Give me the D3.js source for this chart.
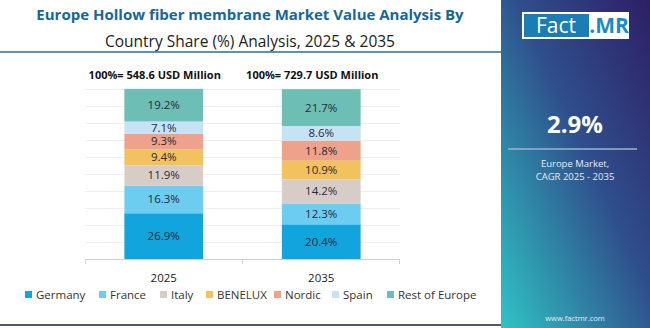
<!DOCTYPE html>
<html>
<head>
<meta charset="utf-8">
<script src="https://cdn.jsdelivr.net/npm/d3@7"></script>
<style>
  body { margin: 0; background: #fff; }
  svg { display: block; font-family: "Open Sans", "Noto Sans", sans-serif; }
</style>
</head>
<body>
<svg id="chart" width="650" height="328"></svg>
<script>
// data
const years = ["2025", "2035"];
const totals = ["548.6", "729.7"];
const countries = ["Germany", "France", "Italy", "BENELUX", "Nordic", "Spain", "Rest of Europe"];
const share2025 = [26.9, 16.3, 11.9, 9.4, 9.3, 7.1, 19.2];
const share2035 = [20.4, 12.3, 14.2, 10.9, 11.8, 8.6, 21.7];
const colors = ["#12a4dc", "#6ccdf1", "#d8cdc6", "#f1c25e", "#eea18b", "#c6e3f6", "#6dbeb5"];
const cagr = "2.9%";

const svg = d3.select("#chart");
const width = 650, height = 328;

// right hand panel
const defs = svg.append("defs");
const grad = defs.append("linearGradient")
  .attr("id", "panel")
  .attr("x1", "100%").attr("y1", "0%")
  .attr("x2", "0%").attr("y2", "100%");
grad.append("stop").attr("offset", "0%").attr("stop-color", "#2e1f66");
grad.append("stop").attr("offset", "45%").attr("stop-color", "#2f4f8c");
grad.append("stop").attr("offset", "100%").attr("stop-color", "#2fc4c4");

svg.append("rect").attr("x", 501).attr("y", 0).attr("width", 149).attr("height", height)
  .attr("fill", "url(#panel)");

svg.append("rect").attr("x", 522).attr("y", 12).attr("width", 107).attr("height", 27).attr("fill", "#fff");
svg.append("rect").attr("x", 524).attr("y", 14).attr("width", 65).attr("height", 23).attr("fill", "#1a7db5");
svg.append("text").attr("x", 556).attr("y", 33).attr("text-anchor", "middle")
  .attr("fill", "#fff").attr("font-size", 21).text("Fact");
svg.append("text").attr("x", 609).attr("y", 33).attr("text-anchor", "middle")
  .attr("fill", "#1a8cc4").attr("font-size", 21).attr("font-weight", 700).text(".MR");

svg.append("text").attr("x", 575).attr("y", 133).attr("text-anchor", "middle")
  .attr("fill", "#fff").attr("font-size", 24).attr("font-weight", 700).text(cagr);
svg.append("line").attr("x1", 508).attr("x2", 637).attr("y1", 149).attr("y2", 149)
  .attr("stroke", "#9fb3d0").attr("stroke-width", 1.5);
svg.append("text").attr("x", 575).attr("y", 167).attr("text-anchor", "middle")
  .attr("fill", "#e6ecf5").attr("font-size", 9.5).text("Europe Market,");
svg.append("text").attr("x", 575).attr("y", 180).attr("text-anchor", "middle")
  .attr("fill", "#e6ecf5").attr("font-size", 9.5).text("CAGR 2025 - 2035");
svg.append("text").attr("x", 575).attr("y", 321).attr("text-anchor", "middle")
  .attr("fill", "#e6ecf5").attr("font-size", 7.5).text("www.factmr.com");

// title
svg.append("text").attr("x", 250).attr("y", 20).attr("text-anchor", "middle")
  .attr("fill", "#17679b").attr("font-size", 15).attr("font-weight", 700)
  .text("Europe Hollow fiber membrane Market Value Analysis By");
svg.append("text").attr("x", 250).attr("y", 47).attr("text-anchor", "middle")
  .attr("fill", "#222").attr("font-size", 15.5)
  .text("Country Share (%) Analysis, 2025 & 2035");
svg.append("line").attr("x1", 0).attr("x2", 501).attr("y1", 52).attr("y2", 52)
  .attr("stroke", "#2b6d98").attr("stroke-width", 1.5);
svg.append("line").attr("x1", 0).attr("x2", 501).attr("y1", 325).attr("y2", 325)
  .attr("stroke", "#4a5a70").attr("stroke-width", 2);

// scales
const x = d3.scaleBand().domain(years).range([85, 400]).paddingInner(0.5).paddingOuter(0.25);
const y = d3.scaleLinear().domain([0, 100]).range([259, 89]);

// grid
svg.append("g")
  .selectAll("line")
  .data(d3.range(10, 101, 10))
  .join("line")
  .attr("x1", 85).attr("x2", 400)
  .attr("y1", d => Math.round(y(d)) + 0.5).attr("y2", d => Math.round(y(d)) + 0.5)
  .attr("stroke", "#eeeeee");

// x axis
const xAxis = svg.append("g")
  .attr("transform", `translate(0,${y(0)})`)
  .call(d3.axisBottom(x).tickSize(0).tickPadding(15));
xAxis.select(".domain").attr("stroke", "#d0d0d0").attr("d", "M85.5,5V0.5H399.5V5");
xAxis.selectAll("text").attr("font-size", 11.5).attr("fill", "#222")
  .attr("font-family", "Open Sans, sans-serif");
// mid tick between the two bands
xAxis.append("line").attr("x1", 242.5).attr("x2", 242.5).attr("y1", 0).attr("y2", 5).attr("stroke", "#d0d0d0");

// stacks
const rows = years.map((yr, i) => {
  const vals = i === 0 ? share2025 : share2035;
  const r = { year: yr };
  countries.forEach((c, j) => r[c] = vals[j]);
  return r;
});
const series = d3.stack().keys(countries)(rows);

const layers = svg.append("g").selectAll("g")
  .data(series)
  .join("g")
  .attr("fill", (d, i) => colors[i]);

layers.selectAll("rect")
  .data(d => d)
  .join("rect")
  .attr("x", d => x(d.data.year))
  .attr("width", x.bandwidth())
  .attr("y", d => y(d[1]))
  .attr("height", d => y(d[0]) - y(d[1]));

layers.selectAll("text")
  .data(d => d.map(v => Object.assign(v, { key: d.key })))
  .join("text")
  .attr("x", d => x(d.data.year) + x.bandwidth() / 2)
  .attr("y", d => (y(d[0]) + y(d[1])) / 2 + 4)
  .attr("text-anchor", "middle")
  .attr("font-size", 11.5)
  .attr("fill", "#2a2a3a")
  .text(d => d.data[d.key].toFixed(1) + "%");

// totals above bars
svg.append("g").selectAll("text")
  .data(years)
  .join("text")
  .attr("x", d => x(d) + x.bandwidth() / 2 - 9)
  .attr("y", 79)
  .attr("text-anchor", "middle")
  .attr("font-size", 11)
  .attr("font-weight", 700)
  .attr("fill", "#111")
  .text((d, i) => `100%= ${totals[i]} USD Million`);

// legend
const legendX = [25, 99, 160, 206, 274, 332, 387];
const legend = svg.append("g").attr("transform", "translate(0,295)");
const item = legend.selectAll("g")
  .data(countries)
  .join("g")
  .attr("transform", (d, i) => `translate(${legendX[i]},0)`);
item.append("rect").attr("x", 0).attr("y", -4).attr("width", 7).attr("height", 7)
  .attr("fill", (d, i) => colors[i]);
item.append("text").attr("x", 11).attr("y", 4)
  .attr("font-size", 11.5).attr("fill", "#333").text(d => d);
</script>
</body>
</html>
